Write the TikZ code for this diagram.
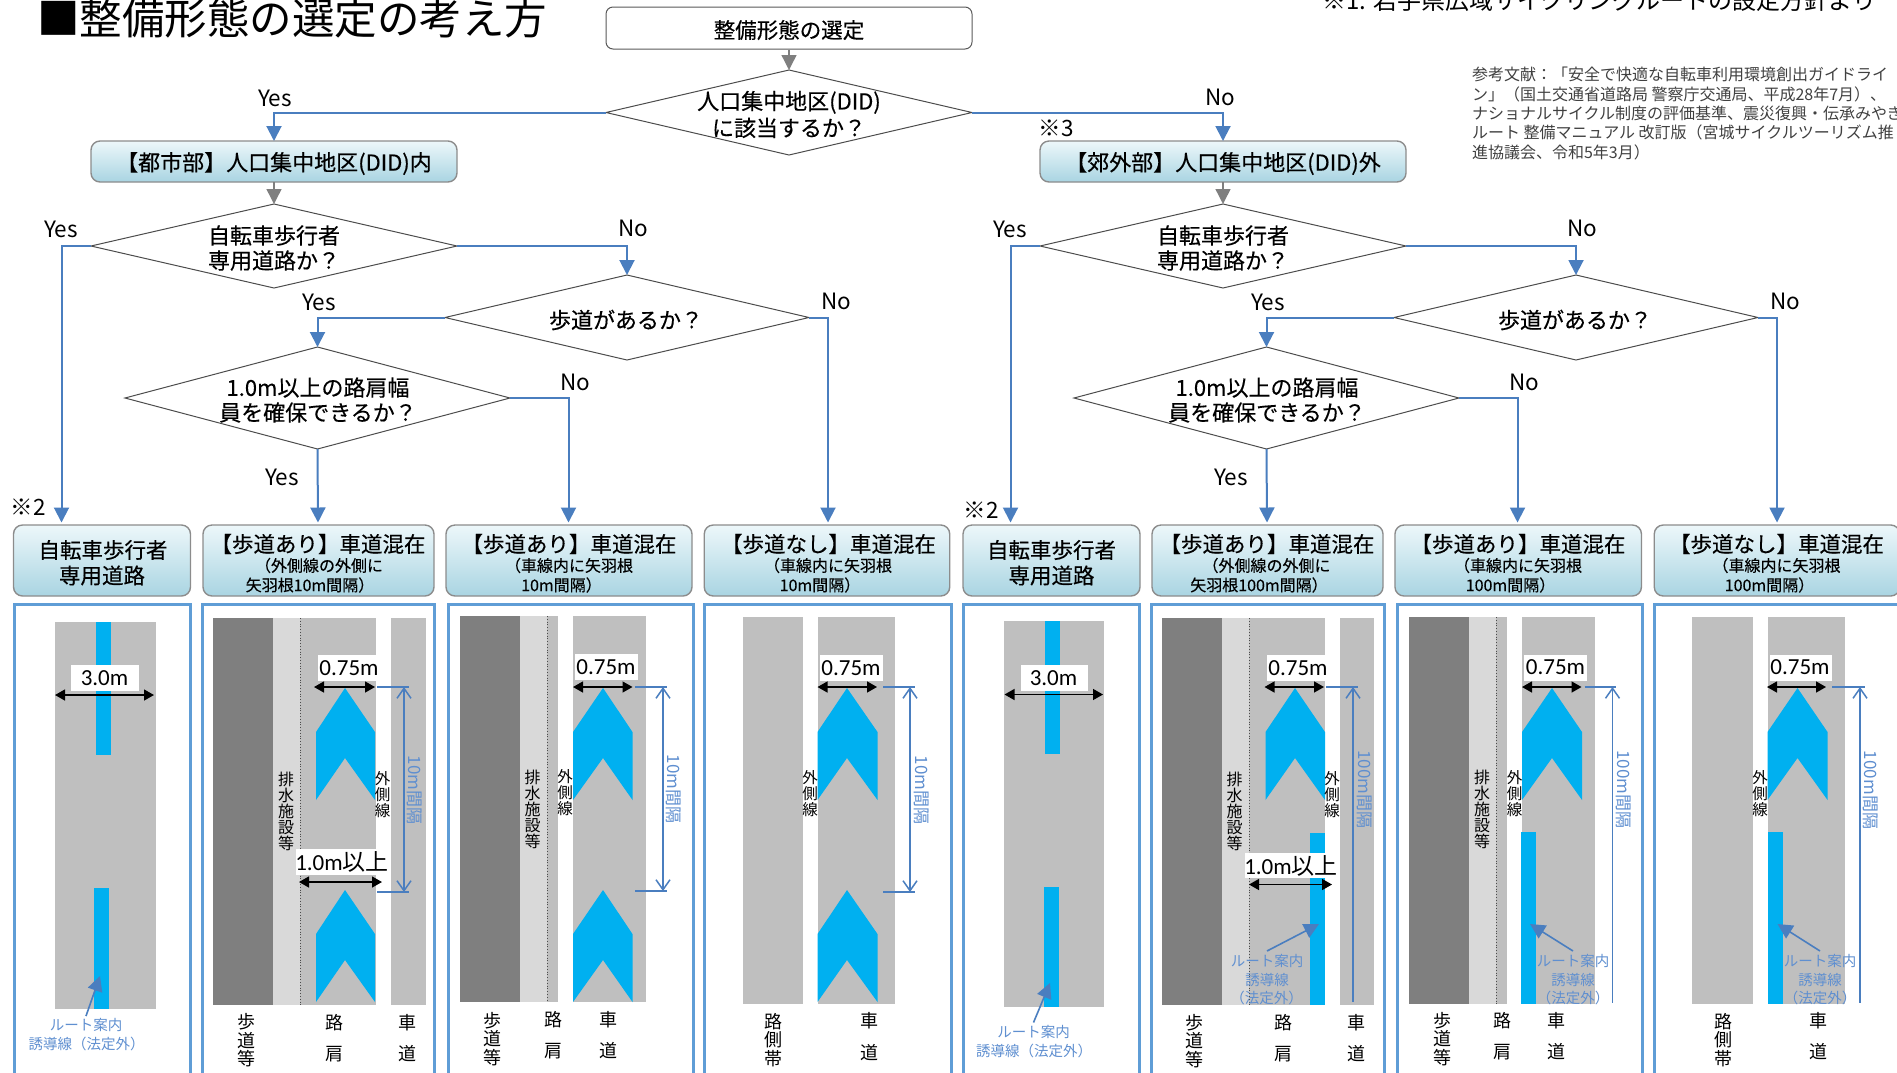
\documentclass[tikz,border=0pt]{standalone}
\usepackage{fontspec}
\setmainfont{Noto Sans CJK JP}
\newfontfamily\jpm[FakeBold=0.35]{Noto Sans CJK JP}
\newfontfamily\calf{Carlito}
\usetikzlibrary{arrows.meta,shapes.geometric}
\definecolor{flowblue}{HTML}{4A7EBF}
\definecolor{flowgray}{HTML}{7F7F7F}
\definecolor{framec}{HTML}{5F9DD6}
\definecolor{roadc}{HTML}{BFBFBF}
\definecolor{darkc}{HTML}{7F7F7F}
\definecolor{lightc}{HTML}{D9D9D9}
\definecolor{markc}{HTML}{00B0F0}
\definecolor{notec}{HTML}{5F8FD0}
\definecolor{hcol}{HTML}{A9D4E2}
\definecolor{hmid}{HTML}{CBE6EE}
\definecolor{htop}{HTML}{EDF7FA}
\tikzset{
 fs/.style={font=\fontsize{#1}{#1}\selectfont},
 fm/.style={font=\jpm\fontsize{#1}{#1}\selectfont},
 dmd/.style={shape=diamond,draw=black!70,line width=1pt,inner sep=0pt,outer sep=0pt},
 txt/.style={inner sep=0pt,outer sep=0pt,align=center,text=black},
 flowline/.style={draw=flowblue,line width=2pt,-{Triangle[length=15pt,width=15pt]}},
 grayline/.style={draw=flowgray,line width=1.4pt,-{Triangle[length=15pt,width=15pt]}},
 plainbox/.style={draw=black!65,line width=1pt,rounded corners=7pt,fill=white,inner sep=0pt},
 hdr/.style={draw=black!45,line width=1.4pt,rounded corners=9pt,top color=htop,bottom color=hcol,middle color=hmid,inner sep=0pt,outer sep=0pt},
 frameb/.style={draw=framec,line width=3pt},
 dimline/.style={draw=black,line width=1.4pt,{Triangle[length=10pt,width=11pt]}-{Triangle[length=10pt,width=11pt]}},
 intline/.style={draw=flowblue,line width=1.5pt,{Straight Barb[length=10pt,width=14pt]}-{Straight Barb[length=10pt,width=14pt]}},
 oneline/.style={draw=flowblue,line width=1.5pt,{Straight Barb[length=10pt,width=14pt]}-},
 refline/.style={draw=flowblue,line width=1.5pt},
 ptr/.style={draw=flowblue,line width=1.6pt,-{Triangle[length=15pt,width=15pt]}},
 note/.style={txt,text=notec},
 yn/.style={txt,fs=22.5},
 vt/.style={txt,font=\fontsize{16}{16}\selectfont},
 vb/.style={txt,font=\fontsize{18}{18.5}\selectfont},
 vf/.style={txt,font=\fontsize{18}{31.5}\selectfont},
 vs/.style={txt,font=\fontsize{15.5}{16}\selectfont},
 calc/.style={txt,font=\calf\fontsize{23}{23}\selectfont},
}
\newcommand{\dbox}[5]{\node[dmd,minimum width=#4pt,minimum height=#5pt] (#1) at (#2,#3) {};}
\newcommand{\chev}[4]{\fill[markc] (#2,#4) -- (#3,#4+44) -- (#3,#4+112) -- (#2,#4+70) -- (#1,#4+112) -- (#1,#4+44) -- cycle;}
\begin{document}
\begin{tikzpicture}[x=1pt,y=-1pt]
\useasboundingbox (0,0) rectangle (1897,1072);

% headings and notes
\node[txt,anchor=west,fs=42.5] (title) at (37,18.5) {■整備形態の選定の考え方};
\node[txt,anchor=west,fs=24] (src) at (1322,0) {※1. 岩手県広域サイクリングルートの設定方針より};
\node[txt,anchor=west,fs=16,text=black!75] (r1) at (1472,74) {参考文献：「安全で快適な自転車利用環境創出ガイドライ};
\node[txt,anchor=west,fs=16,text=black!75] (r2) at (1472,94) {ン」（国土交通省道路局 警察庁交通局、平成28年7月）、};
\node[txt,anchor=west,fs=16,text=black!75] (r3) at (1472,113) {ナショナルサイクル制度の評価基準、震災復興・伝承みやぎ};
\node[txt,anchor=west,fs=16,text=black!75] (r4) at (1472,132) {ルート 整備マニュアル 改訂版（宮城サイクルツーリズム推};
\node[txt,anchor=west,fs=16,text=black!75] (r5) at (1472,152) {進協議会、令和5年3月）};

% top of the flow
\node[plainbox,minimum width=366pt,minimum height=42pt] (top) at (789,28) {};
\node[txt,fm=21.5] (topt) at (789,30) {整備形態の選定};
\dbox{d0}{789}{112.5}{366}{85}{}
\node[txt,fm=22] (d0t) at (789,114.5) {人口集中地区(DID)\\[3pt]に該当するか？};
\draw[grayline] (top.south) -- (d0.north);

% left flow
\node[hdr,minimum width=366pt,minimum height=41pt] (cityh) at (274,161.5) {};
\node[txt,fm=22] (citya) at (274,163.5) {【都市部】人口集中地区(DID)内};
\dbox{d1}{274}{246}{366}{84}{}
\node[txt,fm=22] (d1t) at (274,248) {自転車歩行者\\[3pt]専用道路か？};
\dbox{d2}{627}{317.5}{364}{85}{}
\node[txt,fm=22] (d2t) at (626,320) {歩道があるか？};
\dbox{d3}{317.5}{398}{385}{102}{}
\node[txt,fm=22] (d3t) at (318,400) {1.0m以上の路肩幅\\[3pt]員を確保できるか？};
\coordinate (lA) at (61.5,522.5);
\coordinate (lB) at (318,522.5);
\coordinate (lC) at (568.5,522.5);
\coordinate (lD) at (828,522.5);
\draw[flowline] (d0.west) -| (cityh.north);
\draw[grayline] (cityh.south) -- (d1.north);
\draw[flowline] (d1.west) -| (lA);
\draw[flowline] (d1.east) -| (d2.north);
\draw[flowline] (d2.west) -| (d3.north);
\draw[flowline] (d2.east) -| (lD);
\draw[flowline] (d3.east) -| (lC);
\draw[flowline] (d3.south) -- (lB);
\node[yn] (y0) at (275,98) {Yes};
\node[yn] (y1) at (61,229) {Yes};
\node[yn] (n1) at (633,228) {No};
\node[yn] (y2) at (319,302) {Yes};
\node[yn] (n2) at (836,301) {No};
\node[yn] (n3) at (575,382) {No};
\node[yn] (y3) at (282,477) {Yes};
\node[yn] (m2a) at (28,507) {※2};

% right flow
\node[hdr,minimum width=366pt,minimum height=41pt] (subh) at (1223,161.5) {};
\node[txt,fm=22] (suba) at (1223,163.5) {【郊外部】人口集中地区(DID)外};
\dbox{e1}{1223}{246}{366}{84}{}
\node[txt,fm=22] (e1t) at (1223,248) {自転車歩行者\\[3pt]専用道路か？};
\dbox{e2}{1576}{317.5}{364}{85}{}
\node[txt,fm=22] (e2t) at (1575,320) {歩道があるか？};
\dbox{e3}{1266.5}{398}{385}{102}{}
\node[txt,fm=22] (e3t) at (1267,400) {1.0m以上の路肩幅\\[3pt]員を確保できるか？};
\coordinate (lE) at (1010.5,522.5);
\coordinate (lF) at (1267,522.5);
\coordinate (lG) at (1517.5,522.5);
\coordinate (lH) at (1777,522.5);
\draw[flowline] (d0.east) -| (subh.north);
\draw[grayline] (subh.south) -- (e1.north);
\draw[flowline] (e1.west) -| (lE);
\draw[flowline] (e1.east) -| (e2.north);
\draw[flowline] (e2.west) -| (e3.north);
\draw[flowline] (e2.east) -| (lH);
\draw[flowline] (e3.east) -| (lG);
\draw[flowline] (e3.south) -- (lF);
\node[yn] (n0) at (1220.5,97) {No};
\node[yn] (m3) at (1056,128) {※3};
\node[yn] (y4) at (1010,229) {Yes};
\node[yn] (n4) at (1582,228) {No};
\node[yn] (y5) at (1268,302) {Yes};
\node[yn] (n5) at (1785,301) {No};
\node[yn] (n6) at (1524,382) {No};
\node[yn] (y6) at (1231,477) {Yes};
\node[yn] (m2b) at (981,510) {※2};

% result headers
\node[hdr,minimum width=177pt,minimum height=71pt] (hA) at (102,560.5) {};
\node[hdr,minimum width=231pt,minimum height=71pt] (hB) at (318.5,560.5) {};
\node[hdr,minimum width=246pt,minimum height=71pt] (hC) at (569,560.5) {};
\node[hdr,minimum width=245.5pt,minimum height=71pt] (hD) at (827,560.5) {};
\node[hdr,minimum width=177pt,minimum height=71pt] (hE) at (1051.5,560.5) {};
\node[hdr,minimum width=231pt,minimum height=71pt] (hF) at (1267.5,560.5) {};
\node[hdr,minimum width=246.5pt,minimum height=71pt] (hG) at (1518.2,560.5) {};
\node[hdr,minimum width=245.5pt,minimum height=71pt] (hH) at (1777,560.5) {};
\node[txt,fm=21.5] (hA1) at (103,550) {自転車歩行者};
\node[txt,fm=21.5] (hA2) at (102,575.5) {専用道路};
\node[txt,fm=21.5] (hB1) at (318,544) {【歩道あり】車道混在};
\node[txt,fm=16] (hB2) at (319,565.5) {（外側線の外側に};
\node[txt,fm=16] (hB3) at (310,585) {矢羽根10m間隔）};
\node[txt,fm=21.5] (hC1) at (569,544) {【歩道あり】車道混在};
\node[txt,fm=16] (hC2) at (569,565.5) {（車線内に矢羽根};
\node[txt,fm=16] (hC3) at (561.5,585) {10m間隔）};
\node[txt,fm=21.5] (hD1) at (828.5,544) {【歩道なし】車道混在};
\node[txt,fm=16] (hD2) at (828,565.5) {（車線内に矢羽根};
\node[txt,fm=16] (hD3) at (820,585) {10m間隔）};
\node[txt,fm=21.5] (hE1) at (1051.5,550) {自転車歩行者};
\node[txt,fm=21.5] (hE2) at (1051.5,575.5) {専用道路};
\node[txt,fm=21.5] (hF1) at (1267,544) {【歩道あり】車道混在};
\node[txt,fm=16] (hF2) at (1266.5,565.5) {（外側線の外側に};
\node[txt,fm=16] (hF3) at (1259,585) {矢羽根100m間隔）};
\node[txt,fm=21.5] (hG1) at (1518,544) {【歩道あり】車道混在};
\node[txt,fm=16] (hG2) at (1518,565.5) {（車線内に矢羽根};
\node[txt,fm=16] (hG3) at (1510.5,585) {100m間隔）};
\node[txt,fm=21.5] (hH1) at (1776.5,544) {【歩道なし】車道混在};
\node[txt,fm=16] (hH2) at (1776.5,565.5) {（車線内に矢羽根};
\node[txt,fm=16] (hH3) at (1769.5,585) {100m間隔）};

% frames
\draw[frameb] (14.5,1085) -- (14.5,604) -- (190,604) -- (190,1085);
\draw[frameb] (202,1085) -- (202,604) -- (434,604) -- (434,1085);
\draw[frameb] (448,1085) -- (448,604) -- (693,604) -- (693,1085);
\draw[frameb] (704.5,1085) -- (704.5,604) -- (951.5,604) -- (951.5,1085);
\draw[frameb] (963,1085) -- (963,604) -- (1139.5,604) -- (1139.5,1085);
\draw[frameb] (1151,1085) -- (1151,604) -- (1384,604) -- (1384,1085);
\draw[frameb] (1397,1085) -- (1397,604) -- (1642,604) -- (1642,1085);
\draw[frameb] (1654.5,1085) -- (1654.5,604) -- (1905,604);

% panel A
\fill[roadc] (55,622) rectangle (156,1009);
\fill[markc] (96,622) rectangle (111,755);
\fill[markc] (94,888) rectangle (109,1009);
\fill[white] (70.5,665) rectangle (139,691);
\draw[dimline] (55,695) -- (154,695);
\node[calc] (a1) at (104.5,678) {3.0m};
\coordinate (aP) at (86,1016);
\coordinate (aQ) at (100,976);
\draw[ptr] (aP) -- (aQ);
\node[note,fs=14.5] (a2) at (86,1025) {ルート案内};
\node[note,fs=14.5] (a3) at (86.5,1044) {誘導線（法定外）};

% panel B
\fill[darkc] (213,618) rectangle (273,1005);
\fill[lightc] (273,618) rectangle (300,1005);
\fill[roadc] (300,618) rectangle (376,1005);
\fill[roadc] (391,618) rectangle (426,1005);
\draw[dotted,line width=.8pt,black!70] (300,618) -- (300,1005);
\chev{316}{345}{375}{688}
\chev{316}{345}{375}{890}
\fill[white] (318,655) rectangle (376,681);
\fill[white] (296,849) rectangle (382,875);
\draw[dimline] (314,687) -- (375,687);
\draw[dimline] (299,882) -- (382,882);
\draw[refline] (377,687) -- (409,687);
\draw[refline] (377,892) -- (409,892);
\draw[intline] (404,687) -- (404,892);
\node[calc] (b1) at (349,668) {0.75m};
\node[calc] (b2) at (342,862) {1.0m{\normalfont 以上}};
\node[note,fs=17,rotate=-90] (b3) at (415,790) {10m間隔};
\node[vt] (b4) at (286,811) {排\\水\\施\\設\\等};
\node[vs] (b5) at (382.5,795) {外\\側\\線};
\node[vb] (b6) at (246,1040.5) {歩\\道\\等};
\node[vf] (b7) at (334,1038) {路\\肩};
\node[vf] (b8) at (407,1038) {車\\道};

% panel C
\fill[darkc] (460,616) rectangle (520,1002);
\fill[lightc] (520,616) rectangle (547,1002);
\fill[roadc] (547,616) rectangle (558,1002);
\fill[roadc] (573,616) rectangle (646,1002);
\draw[dotted,line width=.8pt,black!70] (547,616) -- (547,1002);
\chev{573}{603}{632.5}{688}
\chev{573}{603}{632.5}{890}
\fill[white] (575,654) rectangle (637.5,680);
\draw[dimline] (573,687) -- (632.5,687);
\draw[refline] (635,687) -- (666.5,687);
\draw[refline] (635,891) -- (666.5,891);
\draw[intline] (663,687) -- (663,891);
\node[calc] (c1) at (606,667) {0.75m};
\node[note,fs=17,rotate=-90] (c3) at (674,789) {10m間隔};
\node[vt] (c4) at (532.5,809) {排\\水\\施\\設\\等};
\node[vs] (c5) at (565,793) {外\\側\\線};
\node[vb] (c6) at (492,1039) {歩\\道\\等};
\node[vf] (c7) at (553.5,1035) {路\\肩};
\node[vf] (c8) at (608,1035) {車\\道};

% panel D
\fill[roadc] (743,617) rectangle (803,1004);
\fill[roadc] (818,617) rectangle (895,1004);
\chev{817.5}{847}{877.5}{688}
\chev{817.5}{847}{877.5}{890}
\fill[white] (820,655) rectangle (883,681);
\draw[dimline] (817.5,687) -- (877,687);
\draw[refline] (883,687) -- (915,687);
\draw[refline] (883,892) -- (915,892);
\draw[intline] (910,687) -- (910,892);
\node[calc] (d11) at (851,668) {0.75m};
\node[note,fs=17,rotate=-90] (d13) at (921.5,790) {10m間隔};
\node[vs] (d15) at (810,794) {外\\側\\線};
\node[vb] (d16) at (773.5,1040) {路\\側\\帯};
\node[vf] (d17) at (869,1036.5) {車\\道};

% panel E
\fill[roadc] (1004,621) rectangle (1104,1007);
\fill[markc] (1045,621) rectangle (1060,754);
\fill[markc] (1044,887) rectangle (1059,1007);
\fill[white] (1021,665) rectangle (1088,691);
\draw[dimline] (1004.5,694.5) -- (1103,694.5);
\node[calc] (f1) at (1053.5,678) {3.0m};
\coordinate (eP) at (1033.5,1022.5);
\coordinate (eQ) at (1050,983);
\draw[ptr] (eP) -- (eQ);
\node[note,fs=14.5] (f2) at (1033.5,1031.5) {ルート案内};
\node[note,fs=14.5] (f3) at (1034,1051) {誘導線（法定外）};

% panel F
\fill[darkc] (1162,618) rectangle (1222,1005);
\fill[lightc] (1222,618) rectangle (1249,1005);
\fill[roadc] (1249,618) rectangle (1325,1005);
\fill[roadc] (1340,618) rectangle (1374,1005);
\draw[dotted,line width=.8pt,black!70] (1249,618) -- (1249,1005);
\chev{1265.5}{1295}{1325}{688}
\fill[markc] (1310,832.5) rectangle (1325,1005);
\fill[white] (1267,655) rectangle (1325,681);
\fill[white] (1245,853) rectangle (1335,878);
\draw[dimline] (1264.5,687) -- (1324,687);
\draw[dimline] (1249,884.5) -- (1332,884.5);
\draw[refline] (1326,687) -- (1358,687);
\draw[oneline] (1353,687) -- (1353,1002);
\coordinate (fP) at (1267,951);
\coordinate (fQ) at (1319,924);
\draw[ptr] (fP) -- (fQ);
\node[calc] (g1) at (1298,668) {0.75m};
\node[calc] (g2) at (1291,865.5) {1.0m{\normalfont 以上}};
\node[note,fs=17,rotate=-90] (g3) at (1364.5,789.5) {100m間隔};
\node[vt] (g4) at (1234.5,811) {排\\水\\施\\設\\等};
\node[vs] (g5) at (1332,795) {外\\側\\線};
\node[note,fs=14.5] (g9) at (1267,960.5) {ルート案内};
\node[note,fs=14.5] (g10) at (1267,979.5) {誘導線};
\node[note,fs=14.5] (g11) at (1266.5,998) {（法定外）};
\node[vb] (g6) at (1194.5,1041) {歩\\道\\等};
\node[vf] (g7) at (1283.5,1038) {路\\肩};
\node[vf] (g8) at (1356,1038) {車\\道};

% panel G
\fill[darkc] (1409,617) rectangle (1469,1004);
\fill[lightc] (1469,617) rectangle (1496,1004);
\fill[roadc] (1496,617) rectangle (1507,1004);
\fill[roadc] (1522,617) rectangle (1595,1004);
\draw[dotted,line width=.8pt,black!70] (1496,617) -- (1496,1004);
\chev{1522}{1552}{1582}{688}
\fill[markc] (1521,832) rectangle (1536,1004);
\fill[white] (1524,655) rectangle (1587,681);
\draw[dimline] (1522,687) -- (1581.5,687);
\draw[refline] (1584.5,687) -- (1616,687);
\draw[oneline] (1612.5,687) -- (1612.5,1003);
\coordinate (gP) at (1573,951);
\coordinate (gQ) at (1530,924);
\draw[ptr] (gP) -- (gQ);
\node[calc] (k1) at (1555.5,667.5) {0.75m};
\node[note,fs=17,rotate=-90] (k3) at (1624,789.5) {100m間隔};
\node[vt] (k4) at (1482,809) {排\\水\\施\\設\\等};
\node[vs] (k5) at (1514.5,794) {外\\側\\線};
\node[note,fs=14.5] (k9) at (1573,960.5) {ルート案内};
\node[note,fs=14.5] (k10) at (1573,979.5) {誘導線};
\node[note,fs=14.5] (k11) at (1573,998) {（法定外）};
\node[vb] (k6) at (1442,1039) {歩\\道\\等};
\node[vf] (k7) at (1502,1036) {路\\肩};
\node[vf] (k8) at (1556.5,1036) {車\\道};

% panel H
\fill[roadc] (1692,617) rectangle (1752.5,1004);
\fill[roadc] (1767.5,617) rectangle (1845,1004);
\chev{1767.5}{1797.5}{1827.5}{688}
\fill[markc] (1767.5,832) rectangle (1782.5,1004);
\fill[white] (1769.5,655) rectangle (1832,681);
\draw[dimline] (1767,687) -- (1826,687);
\draw[refline] (1832,687) -- (1864.5,687);
\draw[oneline] (1860,687) -- (1860,1003);
\coordinate (hP) at (1820,951);
\coordinate (hQ) at (1777.5,924);
\draw[ptr] (hP) -- (hQ);
\node[calc] (m1) at (1800,667.5) {0.75m};
\node[note,fs=17,rotate=-90] (m13) at (1870.5,790) {100m間隔};
\node[vs] (m5) at (1760,794) {外\\側\\線};
\node[note,fs=14.5] (m9) at (1820,960.5) {ルート案内};
\node[note,fs=14.5] (m10) at (1820,979.5) {誘導線};
\node[note,fs=14.5] (m11) at (1820,998) {（法定外）};
\node[vb] (m6) at (1723,1040) {路\\側\\帯};
\node[vf] (m7) at (1818.5,1036) {車\\道};
\end{tikzpicture}
\end{document}
